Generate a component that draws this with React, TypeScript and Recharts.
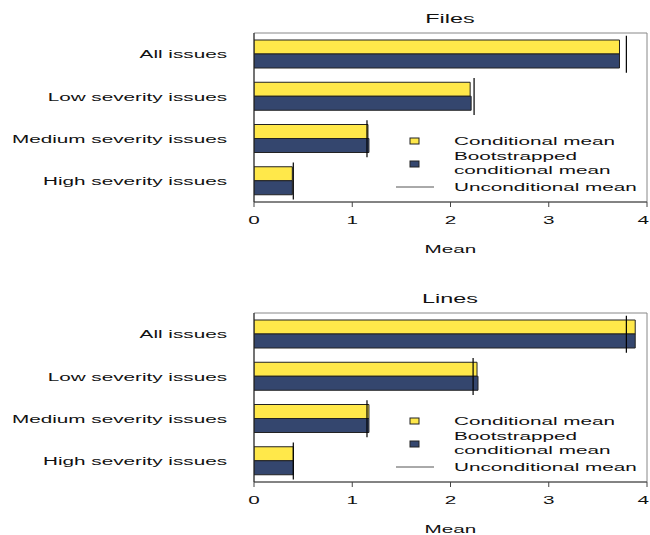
import { ComposedChart, Bar, Scatter, XAxis, YAxis, ReferenceArea, Legend, Customized } from 'recharts';

const categories = ['All issues', 'Low severity issues', 'Medium severity issues', 'High severity issues'];

// Files panel
const filesConditional = [3.72, 2.20, 1.16, 0.39];
const filesBootstrapped = [3.72, 2.21, 1.17, 0.39];
const filesUnconditional = [3.79, 2.24, 1.15, 0.40];

// Lines panel
const linesConditional = [3.88, 2.27, 1.17, 0.40];
const linesBootstrapped = [3.88, 2.28, 1.17, 0.40];
const linesUnconditional = [3.79, 2.23, 1.15, 0.40];

const xTicks = [0, 1, 2, 3, 4];

const YELLOW = '#FFE84A';
const NAVY = '#34466E';
const FONT = '"Liberation Sans", Arial, Helvetica, sans-serif';
const SX = 1.8; // the original text is stretched horizontally

function Stretched({ x, y, anchor, size = 11.5, dy, children }: any) {
  return (
    <text transform={`translate(${x},${y}) scale(${SX},1)`} textAnchor={anchor} dy={dy}
      fontSize={size} fontFamily={FONT} fill="#111">
      {children}
    </text>
  );
}

const YTick = (props: any) => (
  <Stretched x={props.x} y={props.y} anchor="end" dy="0.36em">{props.payload.value}</Stretched>
);

// last tick sits on the right edge of the page, keep it inside
const XTick = (props: any) => {
  const last = props.index === xTicks.length - 1;
  return (
    <Stretched x={last ? Math.min(props.x + 5, 649) : props.x} y={props.y}
      anchor={last ? 'end' : 'middle'} dy="0.71em">{props.payload.value}</Stretched>
  );
};

const MeanLabel = (props: any) => {
  const vb = props.viewBox || { x: 0, y: 0, width: 0 };
  return <Stretched x={vb.x + vb.width / 2} y={vb.y + 51} anchor="middle">Mean</Stretched>;
};

const UncondLine = (props: any) => {
  const { cx, cy } = props;
  if (cx == null || cy == null) return null;
  return <line x1={cx} x2={cx} y1={cy - 18.5} y2={cy + 18.5} stroke="#000" strokeWidth={1.2} />;
};

const LegendBox = () => (
  <svg width={260} height={70} style={{ display: 'block', overflow: 'visible' }}>
    <rect x={20} y={8} width={9} height={6} fill={YELLOW} stroke="#222" strokeWidth={1} />
    <rect x={20} y={31} width={9} height={6} fill={NAVY} stroke="#222" strokeWidth={1} />
    <line x1={6} x2={44} y1={57} y2={57} stroke="#555" strokeWidth={1} />
    <Stretched x={64} y={15} anchor="start">Conditional mean</Stretched>
    <Stretched x={64} y={30} anchor="start">Bootstrapped</Stretched>
    <Stretched x={64} y={44} anchor="start">conditional mean</Stretched>
    <Stretched x={64} y={61} anchor="start">Unconditional mean</Stretched>
  </svg>
);

function Panel({ title, cond, boot, uncond }: { title: string; cond: number[]; boot: number[]; uncond: number[] }) {
  const data = categories.map((name, i) => ({ name, cond: cond[i], boot: boot[i], uncond: uncond[i] }));
  return (
    <ComposedChart width={650} height={255} data={data} layout="vertical"
      margin={{ top: 33, right: 3, bottom: 3, left: 0 }} barSize={14} barGap={0}>
      <XAxis type="number" domain={[0, 4]} ticks={xTicks} allowDataOverflow
        axisLine={{ stroke: '#444' }} tickLine={{ stroke: '#444' }} tickSize={5} tickMargin={9}
        tick={<XTick />} height={50} label={{ content: MeanLabel } as any} />
      <YAxis type="category" dataKey="name" width={254} axisLine={{ stroke: '#222' }}
        tickLine={false} tickSize={6} tickMargin={21} tick={<YTick />} />
      <ReferenceArea x1={0} x2={4} fill="none" stroke="#888" strokeWidth={1} ifOverflow="visible" />
      <Bar dataKey="cond" fill={YELLOW} stroke="#222" strokeWidth={1} isAnimationActive={false} />
      <Bar dataKey="boot" fill={NAVY} stroke="#222" strokeWidth={1} isAnimationActive={false} />
      <Scatter dataKey="uncond" shape={<UncondLine />} isAnimationActive={false} />
      <Legend content={<LegendBox />} layout="horizontal" verticalAlign="middle" align="center"
        wrapperStyle={{ left: 390, top: 130, width: 260, height: 70 }} />
      <Customized component={() => (
        <Stretched x={450} y={22.5} anchor="middle" size={13}>{title}</Stretched>
      )} />
    </ComposedChart>
  );
}

export default function App() {
  return (
    <div style={{ position: 'absolute', left: 0, top: 0, width: 650, height: 535, background: '#fff' }}>
      <div style={{ position: 'absolute', left: 0, top: 0 }}>
        <Panel title="Files" cond={filesConditional} boot={filesBootstrapped} uncond={filesUnconditional} />
      </div>
      <div style={{ position: 'absolute', left: 0, top: 280 }}>
        <Panel title="Lines" cond={linesConditional} boot={linesBootstrapped} uncond={linesUnconditional} />
      </div>
    </div>
  );
}
